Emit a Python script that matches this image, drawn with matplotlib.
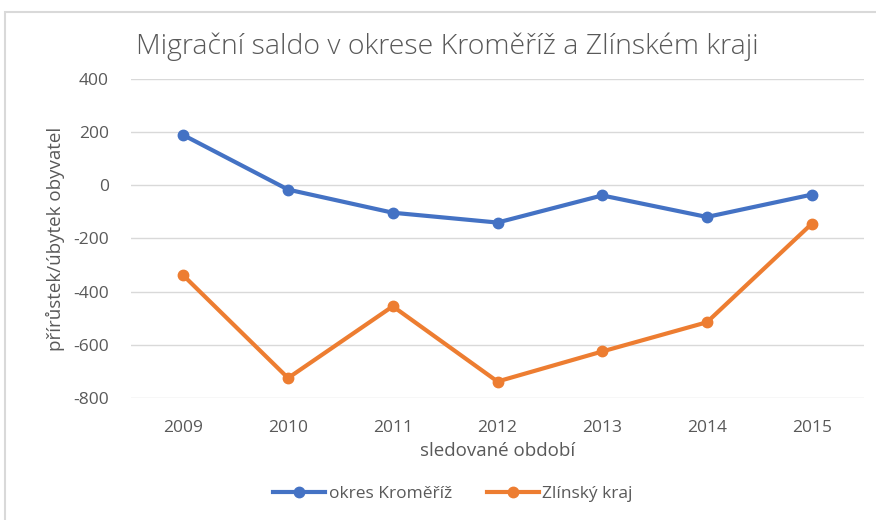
import matplotlib.pyplot as plt
from matplotlib.patches import Rectangle

years = ['2009', '2010', '2011', '2012', '2013', '2014', '2015']
kromeriz = [189, -16, -103, -140, -38, -119, -35]
zlinsky = [-339, -725, -455, -738, -625, -515, -145]
yticks = [400, 200, 0, -200, -400, -600, -800]

plt.rcParams['font.family'] = ['Open Sans', 'DejaVu Sans']
plt.rcParams['axes.unicode_minus'] = False
text_color = '#595959'

fig = plt.figure(figsize=(8.76, 5.2), dpi=100)
ax = fig.add_axes([131 / 876, 1 - 398 / 520, (864 - 131) / 876, (398 - 79) / 520])

# chart frame
fig.patches.append(Rectangle((5 / 876, -0.1), 1.1, 1 - 12 / 520 + 0.1, transform=fig.transFigure,
                             fill=False, edgecolor='#d9d9d9', linewidth=1.5))

x = range(len(years))
ax.plot(x, kromeriz, color='#4472C4', linewidth=3, marker='o', markersize=7.5, label='okres Kroměříž')
ax.plot(x, zlinsky, color='#ED7D31', linewidth=3, marker='o', markersize=7.5, label='Zlínský kraj')

ax.set_xlim(-0.5, len(years) - 0.5)
ax.set_ylim(-800, 400)
ax.set_yticks(yticks)
ax.set_xticks(list(x))
ax.set_xticklabels(years)
ax.grid(axis='y', color='#d9d9d9', linewidth=1)
ax.set_axisbelow(True)
for s in ax.spines.values():
    s.set_visible(False)
ax.tick_params(length=0, labelsize=12.5, colors=text_color)
ax.tick_params(axis='x', pad=16)
ax.tick_params(axis='y', pad=16)

ax.set_xlabel('sledované období', fontsize=13.5, color=text_color, labelpad=4)
ax.set_ylabel('přírůstek/úbytek obyvatel', fontsize=13.5, color=text_color, labelpad=6)

fig.text(447 / 876, 1 - 47 / 520, 'Migrační saldo v okrese Kroměříž a Zlínském kraji',
         ha='center', va='center', fontsize=20.5, color=text_color, fontweight='light')

fig.legend(loc='center', bbox_to_anchor=(453 / 876, 1 - 494 / 520), ncol=2, frameon=False,
           fontsize=12.5, labelcolor=text_color, handlelength=3, columnspacing=2.0, handletextpad=0.2)

fig.savefig('out.png', dpi=100)
